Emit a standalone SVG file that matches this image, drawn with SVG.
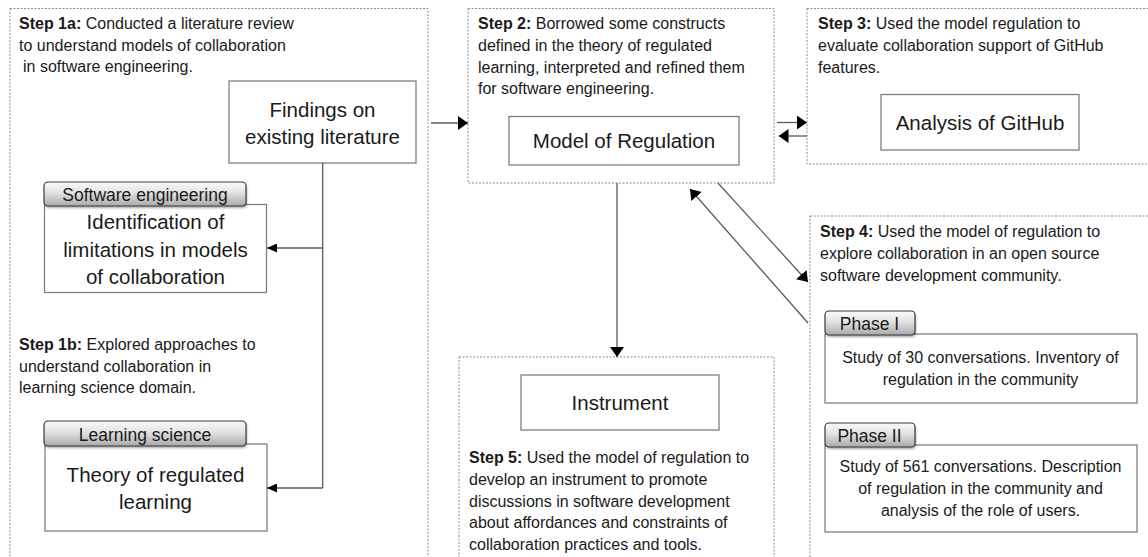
<svg xmlns="http://www.w3.org/2000/svg" width="1148" height="557" viewBox="0 0 1148 557">
  <style>
    .stage { fill: none; stroke: #8c8c8c; stroke-width: 1; stroke-dasharray: 2 1.5; }
    .box { fill: #ffffff; stroke: #808080; stroke-width: 1.3; }
    .tab { fill: url(#tabFill); stroke: #3a3a3a; stroke-width: 1.2; }
    .tabShadow { fill: #000; opacity: 0.35; filter: url(#soft); }
    text { font-family: "Liberation Sans", Arial, sans-serif; fill: #1a1a1a; }
    .note { font-size: 16px; }
    .note tspan.b { font-weight: bold; }
    .big { font-size: 20.5px; text-anchor: middle; }
    .mid { font-size: 16px; text-anchor: middle; }
    .tabText { font-size: 17.5px; text-anchor: middle; }
    .wire { fill: none; stroke: #5a5a5a; stroke-width: 1.3; }
  </style>
  <defs>
    <linearGradient id="tabFill" x1="0" y1="0" x2="0" y2="1">
      <stop offset="0" stop-color="#fafafa"/>
      <stop offset="0.45" stop-color="#e2e2e2"/>
      <stop offset="1" stop-color="#a9a9a9"/>
    </linearGradient>
    <filter id="soft" x="-10%" y="-30%" width="120%" height="160%">
      <feGaussianBlur stdDeviation="1.2"/>
    </filter>
    <marker id="head" viewBox="0 0 10 14" refX="10" refY="7" markerWidth="10" markerHeight="14" markerUnits="userSpaceOnUse" orient="auto">
      <path d="M0,0 L10,7 L0,14 Z" fill="#000"/>
    </marker>
    <marker id="headSmall" viewBox="0 0 10 9" refX="10" refY="4.5" markerWidth="10" markerHeight="9" markerUnits="userSpaceOnUse" orient="auto">
      <path d="M0,0 L10,4.5 L0,9 Z" fill="#000"/>
    </marker>
  </defs>

  <!-- Step 1: literature review and learning science -->
  <g id="step1">
    <rect class="stage" x="10" y="8.5" width="418" height="570"/>
    <text class="note" x="19" y="29"><tspan class="b">Step 1a:</tspan> Conducted a literature review</text>
    <text class="note" x="19" y="50.7">to understand models of collaboration</text>
    <text class="note" x="23" y="72.4">in software engineering.</text>
    <text class="note" x="19" y="350"><tspan class="b">Step 1b:</tspan> Explored approaches to</text>
    <text class="note" x="19" y="371.7">understand collaboration in</text>
    <text class="note" x="19" y="393.4">learning science domain.</text>
  </g>

  <g id="findings">
    <rect class="box" x="229" y="81" width="187" height="82"/>
    <text class="big" x="322.5" y="117">Findings on</text>
    <text class="big" x="322.5" y="143.5">existing literature</text>
  </g>

  <g id="limitations">
    <rect class="box" x="44.5" y="204.5" width="222" height="88"/>
    <rect class="tabShadow" x="45" y="184" width="202" height="24" rx="4"/>
    <rect class="tab" x="44" y="182" width="202" height="24" rx="4"/>
    <text class="tabText" x="145" y="200.5">Software engineering</text>
    <text class="big" x="155.5" y="229.3">Identification of</text>
    <text class="big" x="155.5" y="256.7">limitations in models</text>
    <text class="big" x="155.5" y="284">of collaboration</text>
  </g>

  <g id="theory">
    <rect class="box" x="45" y="444" width="222" height="87"/>
    <rect class="tabShadow" x="45" y="423" width="202" height="25" rx="4"/>
    <rect class="tab" x="44" y="421" width="202" height="25" rx="4"/>
    <text class="tabText" x="145" y="440.5">Learning science</text>
    <text class="big" x="155.5" y="481.7">Theory of regulated</text>
    <text class="big" x="155.5" y="509">learning</text>
  </g>

  <!-- Step 2: model of regulation -->
  <g id="step2">
    <rect class="stage" x="468" y="8.5" width="306" height="174.5"/>
    <text class="note" x="478" y="29.3"><tspan class="b">Step 2:</tspan> Borrowed some constructs</text>
    <text class="note" x="478" y="51">defined in the theory of regulated</text>
    <text class="note" x="478" y="72.7">learning, interpreted and refined them</text>
    <text class="note" x="478" y="94.4">for software engineering.</text>
    <rect class="box" x="509" y="116.5" width="230" height="48.5"/>
    <text class="big" x="624" y="147.7">Model of Regulation</text>
  </g>

  <!-- Step 3: GitHub analysis -->
  <g id="step3">
    <rect class="stage" x="807" y="8.5" width="360" height="155.5"/>
    <text class="note" x="818" y="29.3"><tspan class="b">Step 3:</tspan> Used the model regulation to</text>
    <text class="note" x="818" y="51">evaluate collaboration support of GitHub</text>
    <text class="note" x="818" y="72.7">features.</text>
    <rect class="box" x="881" y="94.5" width="198" height="55.5"/>
    <text class="big" x="980" y="130">Analysis of GitHub</text>
  </g>

  <!-- Step 4: open source community study -->
  <g id="step4">
    <rect class="stage" x="810" y="216" width="360" height="360"/>
    <text class="note" x="820" y="237.3"><tspan class="b">Step 4:</tspan> Used the model of regulation  to</text>
    <text class="note" x="820" y="259">explore collaboration in an open source</text>
    <text class="note" x="820" y="280.7">software development community.</text>
  </g>

  <g id="phase1">
    <rect class="box" x="825" y="334" width="312" height="69"/>
    <rect class="tabShadow" x="826" y="313" width="90" height="24" rx="4"/>
    <rect class="tab" x="825" y="311" width="90" height="24" rx="4"/>
    <text class="tabText" x="869.5" y="330">Phase I</text>
    <text class="mid" x="980.5" y="363.3">Study of 30 conversations. Inventory of</text>
    <text class="mid" x="980.5" y="385">regulation in the community</text>
  </g>

  <g id="phase2">
    <rect class="box" x="825" y="445" width="312" height="87"/>
    <rect class="tabShadow" x="826" y="425" width="90" height="24" rx="4"/>
    <rect class="tab" x="825" y="423" width="90" height="24" rx="4"/>
    <text class="tabText" x="869.5" y="441.7">Phase II</text>
    <text class="mid" x="980.5" y="472.3">Study of 561 conversations. Description</text>
    <text class="mid" x="980.5" y="494">of regulation in the community and</text>
    <text class="mid" x="980.5" y="515.7">analysis of the role of users.</text>
  </g>

  <!-- Step 5: instrument -->
  <g id="step5">
    <rect class="stage" x="459" y="357" width="315" height="230"/>
    <rect class="box" x="521" y="375" width="198" height="55"/>
    <text class="big" x="620" y="410">Instrument</text>
    <text class="note" x="469" y="463.3"><tspan class="b">Step 5:</tspan> Used the model of regulation to</text>
    <text class="note" x="469" y="485">develop an instrument to promote</text>
    <text class="note" x="469" y="506.7">discussions in software development</text>
    <text class="note" x="469" y="528.4">about affordances and constraints of</text>
    <text class="note" x="469" y="550">collaboration practices and tools.</text>
  </g>

  <!-- Connectors -->
  <g id="connectors">
    <path class="wire" d="M322.7,163 V488"/>
    <path class="wire" d="M322.7,248 H267" marker-end="url(#headSmall)"/>
    <path class="wire" d="M322.7,488 H267" marker-end="url(#headSmall)"/>
    <path class="wire" d="M431,123 H468" marker-end="url(#head)"/>
    <path class="wire" d="M777,122.5 H807" marker-end="url(#head)"/>
    <path class="wire" d="M807,136 H778.5" marker-end="url(#head)"/>
    <path class="wire" d="M617,183 V357" marker-end="url(#head)"/>
    <path class="wire" d="M718,183 L808,282" marker-end="url(#head)"/>
    <path class="wire" d="M808,323 L690,189" marker-end="url(#head)"/>
  </g>
</svg>
